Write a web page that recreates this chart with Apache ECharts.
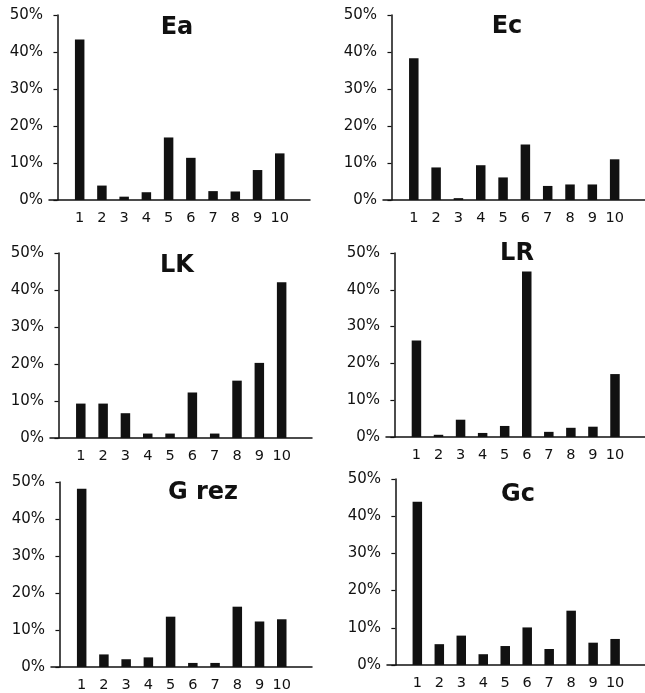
<!DOCTYPE html>
<html>
<head>
<meta charset="utf-8">
<script src="https://cdn.jsdelivr.net/npm/echarts@6/dist/echarts.min.js"></script>
<style>
html,body{margin:0;padding:0;background:#fff;}
#chart{width:645px;height:693px;}
</style>
</head>
<body>
<div id="chart"></div>
<script>
// ---- data ----
const categories = [1, 2, 3, 4, 5, 6, 7, 8, 9, 10];
const panelNames = ['Ea', 'Ec', 'LK', 'LR', 'G rez', 'Gc'];
const valuesEa   = [43.4, 3.9, 0.9, 2.1, 16.9, 11.4, 2.4, 2.3, 8.1, 12.6];
const valuesEc   = [38.3, 8.8, 0.5, 9.4, 6.1, 15.0, 3.8, 4.2, 4.2, 11.0];
const valuesLK   = [9.3, 9.3, 6.7, 1.2, 1.2, 12.3, 1.2, 15.5, 20.3, 42.1];
const valuesLR   = [26.2, 0.6, 4.7, 1.1, 3.0, 45.0, 1.4, 2.5, 2.8, 17.1];
const valuesGrez = [48.2, 3.4, 2.1, 2.6, 13.6, 1.1, 1.1, 16.3, 12.3, 12.9];
const valuesGc   = [43.9, 5.6, 7.9, 2.9, 5.1, 10.1, 4.3, 14.6, 6.0, 7.0];
const yMin = 0, yMax = 50, yStep = 10;

const panelValues = [valuesEa, valuesEc, valuesLK, valuesLR, valuesGrez, valuesGc];

// ---- layout ----
const gridRects = [
  {left: 49,  top: 15,  width: 261, height: 185},
  {left: 383, top: 15,  width: 262, height: 185},
  {left: 50,  top: 253, width: 262, height: 185},
  {left: 386, top: 253, width: 259, height: 184},
  {left: 51,  top: 482, width: 261, height: 186},
  {left: 387, top: 479, width: 258, height: 186}
];
const titlePos = [
  [177, 28], [507, 27], [177, 266], [517, 254], [203, 493], [518, 495]
];

const FONT = 'DejaVu Sans';
const ink = '#111';

const grids = [], xAxes = [], yAxes = [], series = [], graphics = [];
gridRects.forEach((r, i) => {
  grids.push(Object.assign({containLabel: false}, r));
  xAxes.push({
    type: 'value', gridIndex: i, min: -0.38, max: 11.36,
    axisLine: {show: true, lineStyle: {color: ink, width: 1.5}},
    axisTick: {show: false},
    splitLine: {show: false},
    axisLabel: {
      customValues: categories,
      color: ink, fontFamily: FONT, fontSize: 14.5, margin: 11,
      formatter: v => String(v)
    }
  });
  yAxes.push({
    type: 'value', gridIndex: i, min: yMin, max: yMax, interval: yStep,
    axisLine: {show: true, lineStyle: {color: ink, width: 1.5}},
    axisTick: {show: true, length: 4, lineStyle: {color: ink, width: 1.2}},
    splitLine: {show: false},
    axisLabel: {
      color: ink, fontFamily: FONT, fontSize: 15, margin: 6,
      formatter: '{value}%'
    }
  });
  series.push({
    type: 'bar', xAxisIndex: i, yAxisIndex: i,
    barWidth: 9.5,
    itemStyle: {color: ink},
    silent: true,
    data: categories.map((c, k) => [c, panelValues[i][k]])
  });
  graphics.push({
    type: 'text', x: titlePos[i][0], y: titlePos[i][1],
    style: {
      text: panelNames[i], fill: ink, fontFamily: FONT,
      fontWeight: 'bold', fontSize: 24,
      textAlign: 'center', textVerticalAlign: 'middle'
    }
  });
});

const chart = echarts.init(document.getElementById('chart'), null, {renderer: 'canvas'});
chart.setOption({
  animation: false,
  backgroundColor: '#fff',
  grid: grids,
  xAxis: xAxes,
  yAxis: yAxes,
  series: series,
  graphic: graphics
});
</script>
</body>
</html>
